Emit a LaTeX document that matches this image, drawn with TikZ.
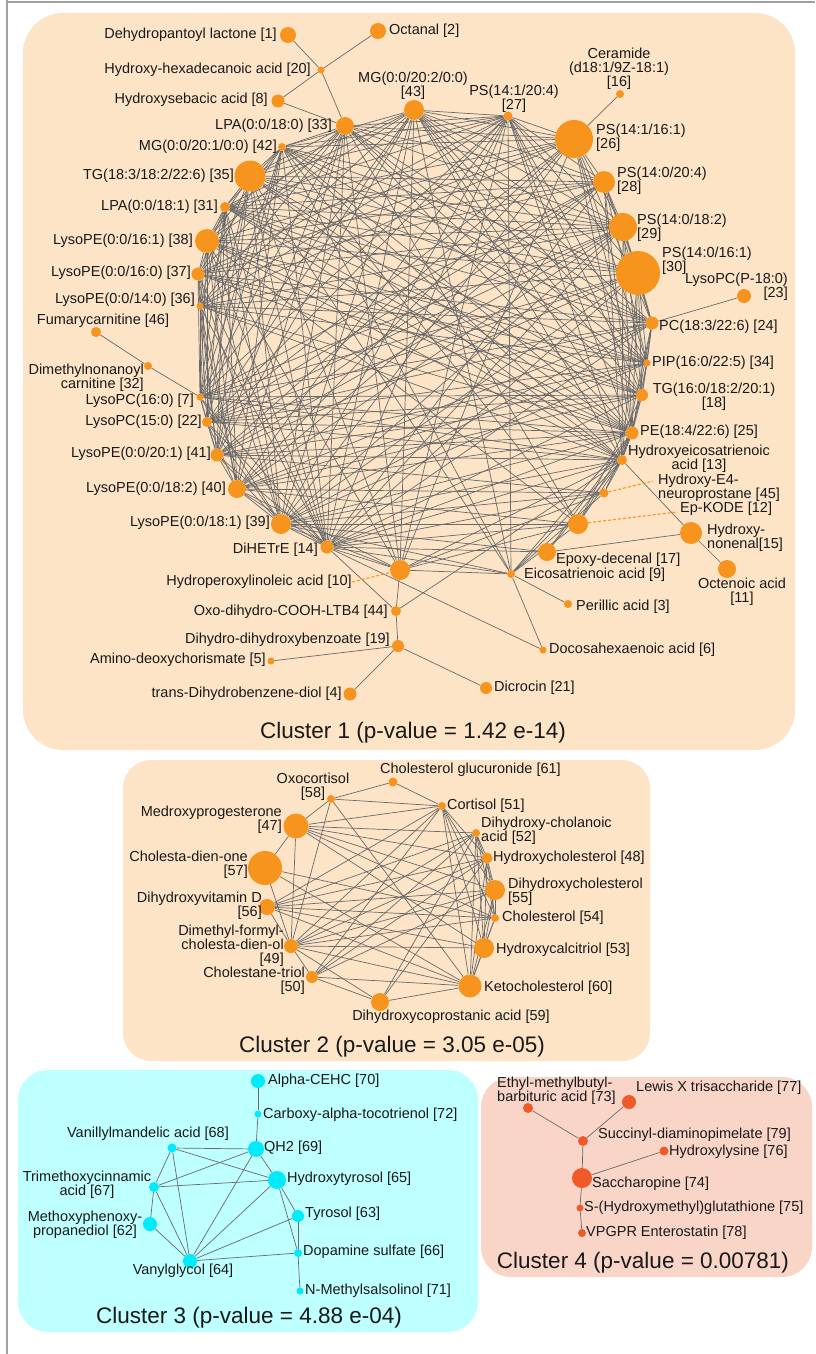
\documentclass[tikz,border=0pt]{standalone}
\usepackage{fontspec}
\setmainfont{Liberation Sans}
\definecolor{orangeN}{RGB}{247,148,29}
\definecolor{cyanN}{RGB}{0,235,250}
\definecolor{redN}{RGB}{240,90,40}
\definecolor{peach}{RGB}{253,228,199}
\definecolor{cyanbg}{RGB}{190,255,255}
\definecolor{pinkbg}{RGB}{249,213,200}
\definecolor{edgec}{RGB}{105,105,105}
\definecolor{txt}{RGB}{25,25,25}
\definecolor{framec}{RGB}{160,160,160}
\pgfdeclarelayer{bg}
\pgfdeclarelayer{edges}
\pgfsetlayers{bg,edges,main}
\newcommand\ON[3]{\node[od, minimum size=#3pt] (n#1) at (#2) {};}
\newcommand\CN[3]{\node[cd, minimum size=#3pt] (n#1) at (#2) {};}
\newcommand\RN[3]{\node[rd, minimum size=#3pt] (n#1) at (#2) {};}
\begin{document}
\begin{tikzpicture}[x=1pt,y=-1pt,
  dotbase/.style={circle, inner sep=0pt, draw=none},
  od/.style={dotbase, fill=orangeN},
  cd/.style={dotbase, fill=cyanN},
  rd/.style={dotbase, fill=redN},
  lab/.style={inner sep=0pt, font=\fontsize{14.5}{14}\selectfont, text=txt},
  ttl/.style={inner sep=0pt, font=\fontsize{22.5}{24}\selectfont, text=txt},
  edge/.style={draw=edgec, line width=0.7pt},
  leader/.style={draw=orangeN, dash pattern=on 3pt off 2pt, line width=1.1pt}]
\useasboundingbox (0,0) rectangle (815,1354);
\begin{pgfonlayer}{bg}
\fill[white] (0,0) rectangle (815,1354);
\draw[framec, line width=2pt] (7,2.5) -- (815,2.5);
\draw[framec, line width=2pt] (7,0) -- (7,1354);
\fill[peach, rounded corners=40pt] (23,13) rectangle (795,750);
\fill[peach, rounded corners=28pt] (123,760) rectangle (650,1061);
\fill[cyanbg, rounded corners=30pt] (18,1070) rectangle (478,1332);
\fill[pinkbg, rounded corners=30pt] (481,1077) rectangle (812,1277);
\end{pgfonlayer}

% ---------- Cluster 1 nodes ----------
\ON{1}{288,35}{16}
\ON{2}{378,31}{16}
\ON{20}{321,70}{7}
\ON{8}{278,101}{13}
\ON{33}{345,126}{18}
\ON{42}{282,147}{8}
\ON{35}{250,176}{31}
\ON{31}{225,207}{10}
\ON{38}{207,241}{24}
\ON{37}{198,274}{13}
\ON{36}{200,306}{7}
\ON{46}{96,332}{10}
\ON{32}{148,366}{8}
\ON{7}{200,397}{7}
\ON{22}{207,422}{10}
\ON{41}{217,455}{13}
\ON{40}{237,489}{18}
\ON{39}{281,524}{20}
\ON{14}{327,547}{13}
\ON{10}{400,570}{20}
\ON{44}{396,611}{10}
\ON{19}{398,646}{12}
\ON{5}{271,661}{7}
\ON{4}{350,694}{13}
\ON{21}{486,688}{12}
\ON{6}{543,650}{7}
\ON{3}{568,604}{8}
\ON{9}{511,574}{8}
\ON{17}{547,552}{18}
\ON{12}{578,524}{20}
\ON{45}{604,493}{9}
\ON{15}{691,533}{22}
\ON{11}{727,569}{18}
\ON{13}{622,460}{10}
\ON{25}{632,433}{13}
\ON{18}{642,395}{12}
\ON{34}{647,363}{7}
\ON{24}{652,323}{13}
\ON{23}{744,296}{14}
\ON{30}{638,273}{44}
\ON{29}{623,227}{28}
\ON{28}{604,182}{22}
\ON{26}{574,139}{38}
\ON{16}{620,94}{8}
\ON{27}{508,116}{9}
\ON{43}{414,110}{20}

% ---------- Cluster 1 labels ----------
\node[lab, anchor=east] (l1) at (277,35) {Dehydropantoyl lactone [1]};
\node[lab, anchor=west] (l2) at (389,31) {Octanal [2]};
\node[lab, anchor=east] (l20) at (311,70) {Hydroxy-hexadecanoic acid [20]};
\node[lab, anchor=east] (l8) at (268,100) {Hydroxysebacic acid [8]};
\node[lab, anchor=east] (l33) at (332,126) {LPA(0:0/18:0) [33]};
\node[lab, anchor=east] (l42) at (277,147) {MG(0:0/20:1/0:0) [42]};
\node[lab, anchor=east] (l35) at (234,176) {TG(18:3/18:2/22:6) [35]};
\node[lab, anchor=east] (l31) at (218,207) {LPA(0:0/18:1) [31]};
\node[lab, anchor=east] (l38) at (193,241) {LysoPE(0:0/16:1) [38]};
\node[lab, anchor=east] (l37) at (191,273) {LysoPE(0:0/16:0) [37]};
\node[lab, anchor=east] (l36) at (195,300) {LysoPE(0:0/14:0) [36]};
\node[lab] (l46) at (103,321) {Fumarycarnitine [46]};
\node[lab, anchor=east, align=right] (l32) at (144,378) {Dimethylnonanoyl\\carnitine [32]};
\node[lab, anchor=east] (l7) at (194,401) {LysoPC(16:0) [7]};
\node[lab, anchor=east] (l22) at (202,422) {LysoPC(15:0) [22]};
\node[lab, anchor=east] (l41) at (211,454) {LysoPE(0:0/20:1) [41]};
\node[lab, anchor=east] (l40) at (226,489) {LysoPE(0:0/18:2) [40]};
\node[lab, anchor=east] (l39) at (270,523) {LysoPE(0:0/18:1) [39]};
\node[lab, anchor=east] (l14) at (318,550) {DiHETrE [14]};
\node[lab, anchor=east] (l10) at (352,582) {Hydroperoxylinoleic acid [10]};
\node[lab, anchor=east] (l44) at (388,612) {Oxo-dihydro-COOH-LTB4 [44]};
\node[lab, anchor=east] (l19) at (390,640) {Dihydro-dihydroxybenzoate [19]};
\node[lab, anchor=east] (l5) at (266,660) {Amino-deoxychorismate [5]};
\node[lab, anchor=east] (l4) at (342,694) {trans-Dihydrobenzene-diol [4]};
\node[lab, anchor=west] (l21) at (494,688) {Dicrocin [21]};
\node[lab, anchor=west] (l6) at (549,650) {Docosahexaenoic acid [6]};
\node[lab, anchor=west] (l3) at (576,607) {Perillic acid [3]};
\node[lab, anchor=west] (l9) at (524,575) {Eicosatrienoic acid [9]};
\node[lab, anchor=west] (l17) at (556,560) {Epoxy-decenal [17]};
\node[lab, anchor=west] (l12) at (680,509) {Ep-KODE [12]};
\node[lab, anchor=west, align=left] (l45) at (658,488) {Hydroxy-E4-\\neuroprostane [45]};
\node[lab, anchor=west, align=left] (l15) at (707,538) {Hydroxy-\\nonenal[15]};
\node[lab, align=center] (l11) at (742,592) {Octenoic acid\\{[11]}};
\node[lab, align=center] (l13) at (699,459) {Hydroxyeicosatrienoic\\acid [13]};
\node[lab, anchor=west] (l25) at (640,432) {PE(18:4/22:6) [25]};
\node[lab, align=center] (l18) at (714,397) {TG(16:0/18:2/20:1)\\{[18]}};
\node[lab, anchor=west] (l34) at (652,363) {PIP(16:0/22:5) [34]};
\node[lab, anchor=west] (l24) at (659,327) {PC(18:3/22:6) [24]};
\node[lab, anchor=east, align=right] (l23) at (788,287) {LysoPC(P-18:0)\\{[23]}};
\node[lab, anchor=west, align=left] (l30) at (662,261) {PS(14:0/16:1)\\{[30]}};
\node[lab, anchor=west, align=left] (l29) at (637,228) {PS(14:0/18:2)\\{[29]}};
\node[lab, anchor=west, align=left] (l28) at (617,181) {PS(14:0/20:4)\\{[28]}};
\node[lab, anchor=west, align=left] (l26) at (596,138) {PS(14:1/16:1)\\{[26]}};
\node[lab, align=center] (l16) at (619,69) {Ceramide\\(d18:1/9Z-18:1)\\{[16]}};
\node[lab, align=center] (l27) at (514,99) {PS(14:1/20:4)\\{[27]}};
\node[lab, align=center] (l43) at (413,86) {MG(0:0/20:2/0:0)\\{[43]}};
\node[ttl] (t1) at (413,733) {Cluster 1 (p-value = 1.42 e-14)};

% ---------- Cluster 2 ----------
\ON{58}{331,799}{8}
\ON{61}{393,782}{9}
\ON{51}{442,806}{8}
\ON{52}{476,833}{8}
\ON{48}{487,858}{11}
\ON{55}{495,890}{20}
\ON{54}{495,918}{8}
\ON{53}{484,948}{20}
\ON{60}{470,986}{23}
\ON{59}{380,1002}{18}
\ON{50}{312,977}{12}
\ON{49}{291,946}{14}
\ON{56}{267,907}{16}
\ON{57}{265,868}{34}
\ON{47}{296,826}{25}
\node[lab, align=center] (l58) at (313,787) {Oxocortisol\\{[58]}};
\node[lab, anchor=west] (l61) at (380,770) {Cholesterol glucuronide [61]};
\node[lab, anchor=west] (l51) at (447,806) {Cortisol [51]};
\node[lab, anchor=west, align=left] (l52) at (481,831) {Dihydroxy-cholanoic\\acid [52]};
\node[lab, anchor=west] (l48) at (493,858) {Hydroxycholesterol [48]};
\node[lab, anchor=west, align=left] (l55) at (508,892) {Dihydroxycholesterol\\{[55]}};
\node[lab, anchor=west] (l54) at (502,918) {Cholesterol [54]};
\node[lab, anchor=west] (l53) at (496,950) {Hydroxycalcitriol [53]};
\node[lab, anchor=west] (l60) at (484,988) {Ketocholesterol [60]};
\node[lab] (l59) at (451,1017) {Dihydroxycoprostanic acid [59]};
\node[lab, anchor=east, align=right] (l50) at (305,981) {Cholestane-triol\\{[50]}};
\node[lab, anchor=east, align=right] (l49) at (284,946) {Dimethyl-formyl-\\cholesta-dien-ol\\{[49]}};
\node[lab, anchor=east, align=right] (l56) at (262,906) {Dihydroxyvitamin D\\{[56]}};
\node[lab, anchor=east, align=right] (l57) at (248,865) {Cholesta-dien-one\\{[57]}};
\node[lab, anchor=east, align=right] (l47) at (282,820) {Medroxyprogesterone\\{[47]}};
\node[ttl] (t2) at (392,1047) {Cluster 2 (p-value = 3.05 e-05)};

% ---------- Cluster 3 ----------
\CN{70}{258,1081}{14}
\CN{72}{258,1114}{7}
\CN{69}{256,1149}{16}
\CN{68}{172,1148}{9}
\CN{65}{277,1180}{18}
\CN{67}{154,1187}{10}
\CN{62}{150,1224}{14}
\CN{64}{190,1261}{14}
\CN{63}{298,1216}{12}
\CN{66}{298,1253}{8}
\CN{71}{300,1291}{7}
\node[lab, anchor=west] (l70) at (268,1081) {Alpha-CEHC [70]};
\node[lab, anchor=west] (l72) at (263,1115) {Carboxy-alpha-tocotrienol [72]};
\node[lab, anchor=west] (l69) at (264,1148) {QH2 [69]};
\node[lab] (l68) at (148,1134) {Vanillylmandelic acid [68]};
\node[lab, anchor=west] (l65) at (287,1179) {Hydroxytyrosol [65]};
\node[lab, align=center] (l67) at (87,1185) {Trimethoxycinnamic\\acid [67]};
\node[lab, align=center] (l62) at (85,1225) {Methoxyphenoxy-\\propanediol [62]};
\node[lab] (l64) at (183,1271) {Vanylglycol [64]};
\node[lab, anchor=west] (l63) at (305,1214) {Tyrosol [63]};
\node[lab, anchor=west] (l66) at (303,1252) {Dopamine sulfate [66]};
\node[lab, anchor=west] (l71) at (305,1291) {N-Methylsalsolinol [71]};
\node[ttl] (t3) at (249,1318) {Cluster 3 (p-value = 4.88 e-04)};

% ---------- Cluster 4 ----------
\RN{73}{528,1108}{10}
\RN{77}{629,1102}{14}
\RN{79}{583,1141}{10}
\RN{76}{664,1151}{9}
\RN{74}{582,1178}{20}
\RN{75}{580,1208}{7}
\RN{78}{582,1233}{8}
\node[lab, anchor=west, align=left] (l73) at (497,1091) {Ethyl-methylbutyl-\\barbituric acid [73]};
\node[lab, anchor=west] (l77) at (636,1088) {Lewis X trisaccharide [77]};
\node[lab, anchor=west] (l79) at (598,1135) {Succinyl-diaminopimelate [79]};
\node[lab, anchor=west] (l76) at (669,1152) {Hydroxylysine [76]};
\node[lab, anchor=west] (l74) at (592,1184) {Saccharopine [74]};
\node[lab, anchor=west] (l75) at (584,1208) {S-(Hydroxymethyl)glutathione [75]};
\node[lab, anchor=west] (l78) at (586,1233) {VPGPR Enterostatin [78]};
\node[ttl] (t4) at (643,1263) {Cluster 4 (p-value = 0.00781)};

\coordinate (e45) at (653,481);
\coordinate (e12) at (677,512);

% ---------- Edges ----------
\begin{pgfonlayer}{edges}
\foreach \a [count=\i] in {33,42,35,31,38,37,36,7,22,41,40,39,14,43,27,26,28,29,30,24,34,18,25,13} {
  \foreach \b [count=\j] in {33,42,35,31,38,37,36,7,22,41,40,39,14,43,27,26,28,29,30,24,34,18,25,13} {
    \ifnum\j>\i
      \pgfmathtruncatemacro\rr{mod(\i*7+\j*11+\i*\j,5)}
      \ifnum\rr>0 \draw[edge] (n\a) -- (n\b); \fi
    \fi
  }
}
\foreach \a/\b in {1/20,2/20,20/8,20/33,8/33,26/16,46/32,32/7,23/24,13/15,15/11,17/15,
  9/3,9/6,14/6,14/44,10/44,44/19,19/5,19/4,19/21,44/13,
  10/14,10/39,10/40,10/9,10/12,10/45,10/13,10/43,10/27,10/33,10/38,10/35,10/26,
  9/14,9/39,9/43,9/27,9/42,9/35,9/13,9/45,9/12,9/25,
  12/14,12/39,12/40,12/38,12/33,12/42,12/13,12/25,12/18,
  45/14,45/39,45/41,45/40,45/13,45/25,
  17/13,17/25,17/14,17/39}
  \draw[edge] (n\a) -- (n\b);
% cluster 2
\foreach \a/\b in {58/61,58/51,58/47,58/49,58/60,61/51,51/47,51/48,51/55,51/54,51/53,51/60,
  51/49,51/50,51/56,47/57,47/49,47/52,47/48,47/55,47/54,47/53,57/49,57/60,57/54,
  56/49,56/60,56/52,56/48,56/55,56/54,56/53,49/52,49/48,49/55,49/54,49/53,49/60,49/59,
  50/59,50/60,50/52,50/48,50/55,50/49,59/60,59/52,59/48,52/48,52/55,52/54,52/53,52/60,
  48/55,48/54,48/53,48/60,55/54,55/53,55/60,54/53,54/60,53/60}
  \draw[edge] (n\a) -- (n\b);
% cluster 3
\foreach \a/\b in {70/72,72/69,68/69,68/65,68/67,68/64,69/67,69/64,69/65,67/65,67/62,67/64,
  62/64,65/64,65/63,65/66,63/64,63/66,64/66,66/71}
  \draw[edge] (n\a) -- (n\b);
% cluster 4
\foreach \a/\b in {73/79,77/79,79/74,74/76,74/75,75/78}
  \draw[edge] (n\a) -- (n\b);
% dashed leaders
\draw[leader] (l10.east) -- (n10);
\draw[leader] (n45) -- (e45);
\draw[leader] (n12) -- (e12);
\end{pgfonlayer}
\end{tikzpicture}
\end{document}
